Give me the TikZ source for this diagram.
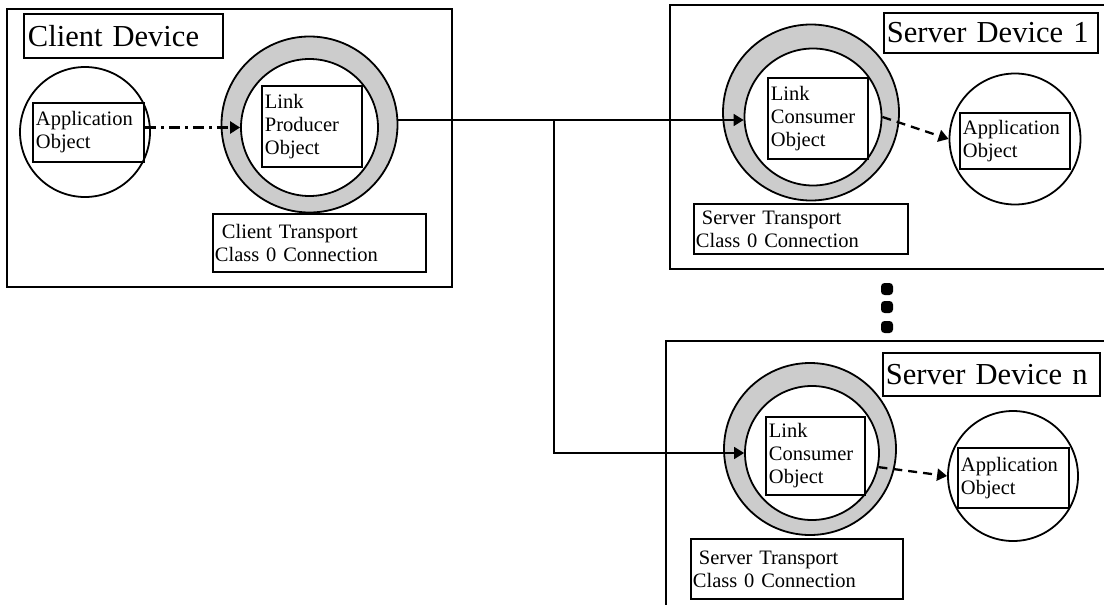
\documentclass[tikz,border=0pt]{standalone}
\usepackage{fontspec}
\setmainfont{Liberation Serif}
\usetikzlibrary{arrows.meta}
\definecolor{ringgray}{RGB}{204,204,204}
\newcommand{\smallfs}{\fontsize{20.5}{23}\selectfont}
\newcommand{\bigfs}{\fontsize{30.5}{34}\selectfont}

\begin{document}
\begin{tikzpicture}[x=1pt,y=-1pt,
  frame/.style={line width=2pt},
  textbox/.style={draw, line width=1.9pt, anchor=north west, inner xsep=3pt,
    inner ysep=0pt, align=left, font=\smallfs},
  titlebox/.style={textbox, font=\bigfs, inner xsep=4pt},
  appcircle/.style={circle, draw, line width=1.8pt, inner sep=0pt, minimum size=130pt},
  ringouter/.style={circle, draw, line width=1.8pt, fill=ringgray, inner sep=0pt},
  ringinner/.style={circle, draw, line width=1.8pt, fill=white, inner sep=0pt},
  wire/.style={line width=1.7pt},
  headtip/.style={-{Triangle[length=10pt,width=12pt]}},
  callflow/.style={line width=2.6pt, dash pattern=on 11pt off 5pt on 3pt off 5pt,
    -{Triangle[length=10pt,width=12pt]}},
  notify/.style={line width=2.3pt, dash pattern=on 9pt off 6pt,
    -{Triangle[length=10pt,width=12pt]}},
  ellipsisdot/.style={rectangle, rounded corners=3.5pt, fill=black, inner sep=0pt, minimum size=12pt},
]
\useasboundingbox (0,0) rectangle (1104,605);
\clip (0,0) rectangle (1104,605);

% ---------------- device frames ----------------
\draw[frame] (7,9) rectangle (452,287);
\draw[frame] (1110,5) -| (670,269) -- (1110,269);
\draw[frame] (1110,341) -| (666,612);

% ---------------- client device ----------------
\node[titlebox, text width=191pt, minimum height=44pt] (cdlabel) at (23,13) {Client Device};
\node[appcircle] (capp) at (85,132) {};
\node[textbox, text width=105pt, minimum height=59pt] (cappbox) at (32,102) {Application\\Object};
\node[ringouter, minimum size=176pt] (cout) at (309.5,124.5) {};
\node[ringinner, minimum size=137pt] (cin) at (309.5,127.5) {};
\node[textbox, text width=94pt, minimum height=81pt] (cprod) at (261,85) {Link\\Producer\\Object};
\node[textbox, inner xsep=2pt, text width=209pt, minimum height=58pt] (ctrans) at (212,213)
  {\hspace*{7pt}Client Transport\\Class 0 Connection};

% ---------------- server device 1 ----------------
\node[titlebox, inner xsep=3pt, text width=208pt, minimum height=40pt] (s1label) at (883,12) {Server Device 1};
\node[ringouter, minimum size=176pt] (s1out) at (811,112.5) {};
\node[ringinner, minimum size=137pt] (s1in) at (813,117) {};
\node[textbox, text width=94pt, minimum height=81pt] (s1cons) at (767,77) {Link\\Consumer\\Object};
\node[appcircle, minimum size=131pt] (s1app) at (1015,139) {};
\node[textbox, text width=104pt, minimum height=56pt] (s1appbox) at (959,112) {Application\\Object};
\node[textbox, inner xsep=2pt, text width=210pt, minimum height=50pt] (s1trans) at (693,203)
  {\hspace*{6pt}Server Transport\\Class 0 Connection};

% ---------------- ellipsis between servers ----------------
\node[ellipsisdot] (e1) at (887,289) {};
\node[ellipsisdot] (e2) at (887,307) {};
\node[ellipsisdot] (e3) at (887,327) {};

% ---------------- server device n ----------------
\node[titlebox, inner xsep=3pt, text width=211pt, minimum height=43pt] (snlabel) at (882,352) {Server Device n};
\node[ringouter, minimum size=172pt] (snout) at (810,449) {};
\node[ringinner, minimum size=134pt] (snin) at (812,453) {};
\node[textbox, text width=93pt, minimum height=78pt] (sncons) at (765,416) {Link\\Consumer\\Object};
\node[appcircle] (snapp) at (1013,476) {};
\node[textbox, text width=105pt, minimum height=60pt] (snappbox) at (957,447) {Application\\Object};
\node[textbox, inner xsep=2pt, text width=208pt, minimum height=60pt] (sntrans) at (690,538)
  {\hspace*{6pt}Server Transport\\Class 0 Connection};

% ---------------- connections ----------------
\coordinate (split) at (554,120);
\draw[callflow] (cappbox.east |- cin.west) -- (cin.west);
\draw[wire] (cout.east |- split) -- (split);
\draw[wire, headtip] (split) -- (s1in.west |- split);
\draw[wire, headtip] (split) |- (snin.west);
\draw[notify] (s1in.east) -- (s1app.west);
\draw[notify] (snin.-12) -- (snapp.west);
\end{tikzpicture}
\end{document}
